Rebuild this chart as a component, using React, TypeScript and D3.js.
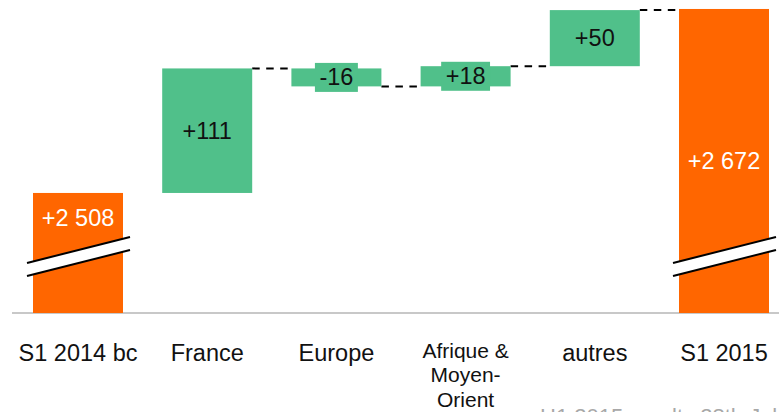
import React, { useEffect, useRef } from "react";
import * as d3 from "d3";

const categories = ["S1 2014 bc", "France", "Europe", "Afrique &|Moyen-|Orient", "autres", "S1 2015"];
const values = [2508, 111, -16, 18, 50, 2672];
const labels = ["+2 508", "+111", "-16", "+18", "+50", "+2 672"];
const kinds = ["total", "delta", "delta", "delta", "delta", "total"];
const axisMin = 2401;
const axisMax = 2680;
const footnote = "H1 2015 results 28th July 2015";

const W = 779;
const H = 412;
const ORANGE = "#ff6600";
const GREEN = "#50c08a";
const FONT = "'Liberation Sans', Arial, Helvetica, sans-serif";

export default function App() {
  const ref = useRef<SVGSVGElement | null>(null);

  useEffect(() => {
    document.body.style.margin = "0";
    const svg = d3.select(ref.current);
    svg.selectAll("*").remove();

    const baseY = 313;
    const x = d3.scaleBand<number>().domain(d3.range(categories.length)).range([33, 769]).paddingInner(0.3034).paddingOuter(0);
    const y = d3.scaleLinear().domain([axisMin, axisMax]).range([baseY, 0]);

    let running = 0;
    const bars = values.map((v, i) => {
      if (kinds[i] === "total") {
        running = v;
        return { i, lo: axisMin, hi: v, end: v };
      }
      const start = running;
      running = start + v;
      return { i, lo: Math.min(start, running), hi: Math.max(start, running), end: running };
    });

    // axis line
    svg.append("line").attr("x1", 12).attr("x2", W).attr("y1", baseY).attr("y2", baseY)
      .attr("stroke", "#c8c8c8").attr("stroke-width", 2);

    // connectors
    for (let i = 1; i < bars.length - 1; i++) {
      const b = bars[i];
      svg.append("line")
        .attr("x1", x(i)! + x.bandwidth()).attr("x2", x(i + 1)!)
        .attr("y1", y(b.end)).attr("y2", y(b.end))
        .attr("stroke", "#000").attr("stroke-width", 2).attr("stroke-dasharray", "7.5,6.5");
    }

    // bars
    const g = svg.append("g");
    g.selectAll("rect.bar").data(bars).enter().append("rect")
      .attr("class", "bar")
      .attr("x", (d) => x(d.i)!)
      .attr("width", x.bandwidth())
      .attr("y", (d) => y(d.hi))
      .attr("height", (d) => y(d.lo) - y(d.hi))
      .attr("fill", (d) => (kinds[d.i] === "total" ? ORANGE : GREEN));

    // break marks on total bars
    const breakY = 256.5;
    const bw = x.bandwidth();
    bars.filter((d) => kinds[d.i] === "total").forEach((d) => {
      const x0 = x(d.i)! - 6;
      const x1 = x(d.i)! + bw + 7;
      const rise = 13;
      const gap = 6.5;
      svg.append("path")
        .attr("d", `M${x0},${breakY + rise - gap}L${x1},${breakY - rise - gap}L${x1},${breakY - rise + gap}L${x0},${breakY + rise + gap}Z`)
        .attr("fill", "#fff");
      [-gap, gap].forEach((o) => {
        svg.append("line")
          .attr("x1", x0).attr("y1", breakY + rise + o)
          .attr("x2", x1).attr("y2", breakY - rise + o)
          .attr("stroke", "#000").attr("stroke-width", 2);
      });
    });

    // value labels
    bars.forEach((d) => {
      const cx = x(d.i)! + bw / 2;
      let cy: number;
      if (d.i === 0) cy = y(d.hi) + 25;
      else cy = (y(d.hi) + y(d.lo)) / 2;
      const isTotal = kinds[d.i] === "total";
      const lg = svg.append("g");
      const t = lg.append("text")
        .attr("x", cx).attr("y", cy)
        .attr("text-anchor", "middle").attr("dominant-baseline", "central")
        .attr("font-family", FONT).attr("font-size", 23.5)
        .attr("fill", isTotal ? "#fff" : "#111")
        .text(labels[d.i]);
      const h = y(d.lo) - y(d.hi);
      if (!isTotal && h < 28) {
        const bb = (t.node() as SVGTextElement).getBBox();
        lg.insert("rect", "text")
          .attr("x", bb.x - 4.5).attr("width", bb.width + 9)
          .attr("y", cy - 14.5).attr("height", 29)
          .attr("fill", GREEN);
      }
    });

    // category labels
    categories.forEach((c, i) => {
      const cx = x(i)! + bw / 2;
      const lines = c.split("|");
      const multi = lines.length > 1;
      const t = svg.append("text")
        .attr("text-anchor", "middle")
        .attr("font-family", FONT)
        .attr("font-size", multi ? 21 : 23.5)
        .attr("fill", "#111");
      lines.forEach((ln, k) => {
        t.append("tspan").attr("x", cx).attr("y", (multi ? 357.5 : 361) + k * 24.8).text(ln);
      });
    });

    // footnote (cut off at bottom, as in the reference)
    svg.append("text").attr("x", 540).attr("y", 424)
      .attr("font-family", FONT).attr("font-size", 22).attr("fill", "#a8a8a8")
      .text(footnote);
  }, []);

  return <svg ref={ref} width={W} height={H} style={{ display: "block" }} />;
}
